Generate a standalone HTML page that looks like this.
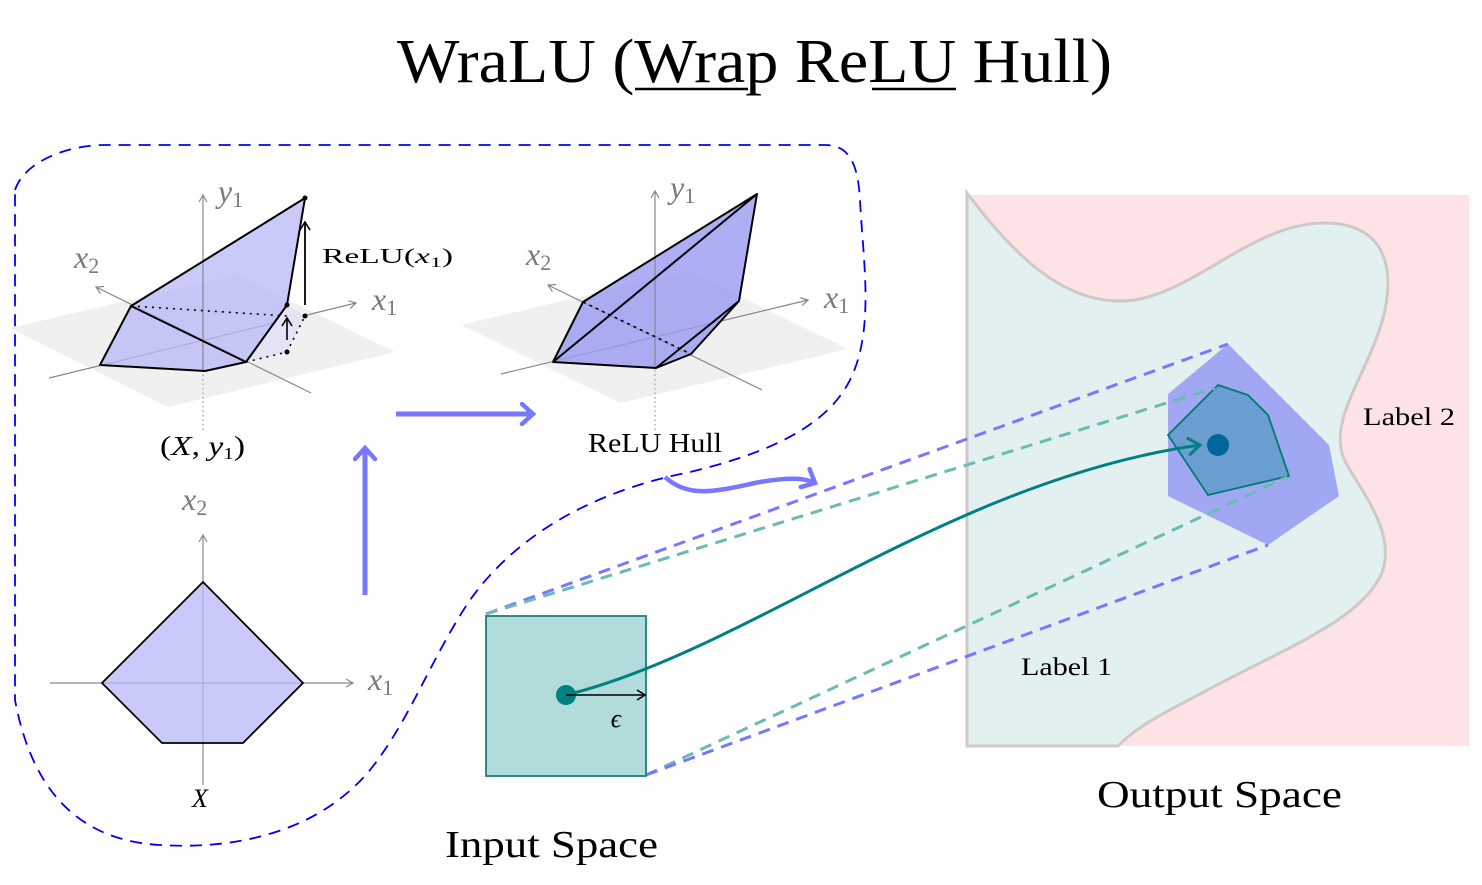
<!DOCTYPE html>
<html><head><meta charset="utf-8"><style>
html,body{margin:0;padding:0;background:#fff;}
svg{display:block;font-family:"Liberation Serif",serif;}
.ax{stroke:#888;stroke-width:1.2;fill:none}
.al{fill:#7a7a7a;font-style:italic;font-size:32px}
.ed{stroke:#000;stroke-width:2;fill:none;stroke-linejoin:round}
</style></head><body>
<svg width="1482" height="885" viewBox="0 0 1482 885">
<defs>
<marker id="ga" markerWidth="10" markerHeight="10" refX="8" refY="5" orient="auto" markerUnits="userSpaceOnUse"><path d="M1,1 L8,5 L1,9" fill="none" stroke="#888" stroke-width="1.2"/></marker>
<marker id="ka" markerWidth="12" markerHeight="12" refX="9" refY="6" orient="auto" markerUnits="userSpaceOnUse"><path d="M1,1 L9,6 L1,11" fill="none" stroke="#000" stroke-width="1.6"/></marker>
<marker id="ba" markerWidth="20" markerHeight="24" refX="14" refY="12" orient="auto" markerUnits="userSpaceOnUse"><path d="M3,2 L14,12 L3,22" fill="none" stroke="#7777ff" stroke-width="4.5" stroke-linecap="round"/></marker>
<marker id="ta" markerWidth="20" markerHeight="20" refX="14" refY="10" orient="auto" markerUnits="userSpaceOnUse"><path d="M3,2 L14,10 L3,18" fill="none" stroke="#008080" stroke-width="3" stroke-linecap="round"/></marker>
</defs>

<!-- Title -->
<text x="397" y="82" font-size="62" textLength="715" lengthAdjust="spacingAndGlyphs">WraLU (Wrap ReLU Hull)</text>
<line x1="635" y1="89" x2="748" y2="89" stroke="#000" stroke-width="2.5"/>
<line x1="872" y1="89" x2="956" y2="89" stroke="#000" stroke-width="2.5"/>

<!-- dashed loop -->
<path d="M15,190 C25,160 70,145 105,145 L825,145 C850,145 858,165 860,200 C863,260 875,330 850,380 C825,430 760,455 690,472 C600,490 520,530 470,600 C430,660 410,720 370,770 C320,830 240,850 160,845 C70,840 30,780 15,700 Z" fill="none" stroke="#0000ee" stroke-width="1.8" stroke-dasharray="12,8"/>

<!-- Plot 1 -->
<polygon points="10,328 237,275 395,352 168,407" fill="#f0f0f0"/>
<line class="ax" x1="311" y1="393" x2="96" y2="287" marker-end="url(#ga)"/>
<line class="ax" x1="49" y1="378" x2="356" y2="303" marker-end="url(#ga)"/>
<line x1="203" y1="430" x2="203" y2="370" stroke="#888" stroke-dasharray="1.5,3"/>
<polygon points="131,306 305,198 287,305 246,362 205,371 100,365" fill="#b8b8f8" fill-opacity="0.75"/>
<polygon points="246,362 287,352 305,316 287,305" fill="#e4e4f4"/>
<line class="ax" x1="203" y1="370" x2="203" y2="195" marker-end="url(#ga)"/>
<polyline class="ed" points="246,362 131,306 305,198 287,305 246,362 205,371 100,365 131,306"/>
<line x1="131" y1="306" x2="287" y2="316" stroke="#000" stroke-width="1.6" stroke-dasharray="2,5"/>
<polyline points="246,362 287,352 305,316" fill="none" stroke="#000" stroke-width="1.6" stroke-dasharray="2,5"/>
<circle cx="305" cy="198" r="2.5"/><circle cx="287" cy="305" r="2.5"/><circle cx="305" cy="316" r="2.5"/><circle cx="287" cy="352" r="2.5"/>
<line x1="305" y1="305" x2="305" y2="222" stroke="#000" stroke-width="1.8" marker-end="url(#ka)"/>
<line x1="287" y1="340" x2="287" y2="318" stroke="#000" stroke-width="1.6" marker-end="url(#ka)"/>
<text class="al" x="218" y="202">y<tspan font-style="normal" font-size="22" dy="5">1</tspan></text>
<text class="al" x="74" y="268">x<tspan font-style="normal" font-size="22" dy="5">2</tspan></text>
<text class="al" x="372" y="310">x<tspan font-style="normal" font-size="22" dy="5">1</tspan></text>
<text x="322" y="263" font-size="21" textLength="131" lengthAdjust="spacingAndGlyphs">ReLU(<tspan font-style="italic">x</tspan><tspan font-size="15" dy="4">1</tspan><tspan dy="-4">)</tspan></text>
<text x="160" y="455" font-size="27" textLength="85" lengthAdjust="spacingAndGlyphs">(<tspan font-style="italic">X</tspan>, <tspan font-style="italic">y</tspan><tspan font-size="17" dy="4">1</tspan><tspan dy="-4">)</tspan></text>

<!-- Plot 2 -->
<polygon points="461,325 688,271 848,349 620,403" fill="#f0f0f0"/>
<line class="ax" x1="762" y1="390" x2="548" y2="285" marker-end="url(#ga)"/>
<line class="ax" x1="501" y1="374" x2="808" y2="300" marker-end="url(#ga)"/>
<line x1="655" y1="430" x2="655" y2="368" stroke="#888" stroke-dasharray="1.5,3"/>
<polygon points="583,302 757,194 739,301 691,354 656,368 553,362" fill="#9a9af2" fill-opacity="0.8"/>
<line class="ax" x1="655" y1="368" x2="655" y2="191" marker-end="url(#ga)"/>
<polyline class="ed" points="553,362 583,302 757,194 739,301 691,354 656,368 553,362 757,194"/>
<line class="ed" x1="656" y1="368" x2="739" y2="301"/>
<line x1="583" y1="302" x2="691" y2="354" stroke="#000" stroke-width="1.6" stroke-dasharray="3,4"/>
<text class="al" x="670" y="198">y<tspan font-style="normal" font-size="22" dy="5">1</tspan></text>
<text class="al" x="526" y="265">x<tspan font-style="normal" font-size="22" dy="5">2</tspan></text>
<text class="al" x="824" y="308">x<tspan font-style="normal" font-size="22" dy="5">1</tspan></text>
<text x="588" y="452" font-size="27" textLength="134" lengthAdjust="spacingAndGlyphs">ReLU Hull</text>

<!-- 2D plot -->
<line class="ax" x1="50" y1="683" x2="353" y2="683" marker-end="url(#ga)"/>
<line class="ax" x1="203" y1="785" x2="203" y2="535" marker-end="url(#ga)"/>
<polygon points="203,582 303,683 243,743 162,743 102,683" fill="#b8b8f8" fill-opacity="0.75" stroke="#000" stroke-width="1.8"/>
<text class="al" x="368" y="690">x<tspan font-style="normal" font-size="22" dy="5">1</tspan></text>
<text class="al" x="182" y="510">x<tspan font-style="normal" font-size="22" dy="5">2</tspan></text>
<text x="200" y="807" font-size="26" font-style="italic" text-anchor="middle">X</text>

<!-- blue arrows -->
<line x1="396" y1="414" x2="533" y2="414" stroke="#7777ff" stroke-width="5" marker-end="url(#ba)"/>
<line x1="365" y1="595" x2="365" y2="448" stroke="#7777ff" stroke-width="5" marker-end="url(#ba)"/>
<path d="M665,477 C690,500 720,490 760,482 C790,477 805,478 815,483" fill="none" stroke="#7777ff" stroke-width="4.5" marker-end="url(#ba)"/>

<!-- Output space -->
<rect x="967" y="195" width="502" height="551" fill="#fde3e6"/>
<path d="M967,193 C1010,250 1060,303 1123,301 C1190,299 1250,223 1324,223 C1380,223 1395,260 1385,310 C1372,370 1325,420 1345,461 C1360,490 1395,530 1383,570 C1365,620 1280,650 1200,694 C1160,715 1135,728 1118,746 L967,746 Z" fill="#e2f0ef" stroke="#d0c8c8" stroke-width="3"/>
<polygon points="1228,344 1168,394 1168,496 1268,545 1339,496 1329,445" fill="#a0a8f4"/>
<polygon points="1218,385 1248,395 1268,415 1289,476 1208,495 1168,435" fill="#6b9ed0" stroke="#007a70" stroke-width="1.8"/>
<circle cx="1218" cy="445" r="11" fill="#006699"/>
<text x="1021" y="675" font-size="25" textLength="91" lengthAdjust="spacingAndGlyphs">Label 1</text>
<text x="1363" y="425" font-size="25" textLength="92" lengthAdjust="spacingAndGlyphs">Label 2</text>
<text x="1097" y="807" font-size="38" textLength="245" lengthAdjust="spacingAndGlyphs">Output Space</text>

<!-- dashed projections -->
<line x1="486" y1="614" x2="1228" y2="344" stroke="#7777ff" stroke-width="3" stroke-dasharray="12,8"/>
<line x1="486" y1="614" x2="1215" y2="388" stroke="#6bbab4" stroke-width="3" stroke-dasharray="12,8"/>
<line x1="646" y1="775" x2="1287" y2="477" stroke="#6bbab4" stroke-width="3" stroke-dasharray="12,8"/>
<line x1="646" y1="775" x2="1268" y2="545" stroke="#7777ff" stroke-width="3" stroke-dasharray="12,8"/>

<!-- Input space -->
<rect x="486" y="616" width="160" height="160" fill="#b2dcdc" stroke="#1a8080" stroke-width="1.8"/>
<path d="M566,695 C750,650 950,480 1200,445" fill="none" stroke="#008080" stroke-width="3" marker-end="url(#ta)"/>
<circle cx="566" cy="695" r="10" fill="#008080"/>
<line x1="566" y1="695" x2="645" y2="695" stroke="#000" stroke-width="1.6" marker-end="url(#ka)"/>
<text x="616" y="727" font-size="26" font-style="italic" text-anchor="middle">ϵ</text>
<text x="445" y="857" font-size="38" textLength="213" lengthAdjust="spacingAndGlyphs">Input Space</text>
</svg>
</body></html>
